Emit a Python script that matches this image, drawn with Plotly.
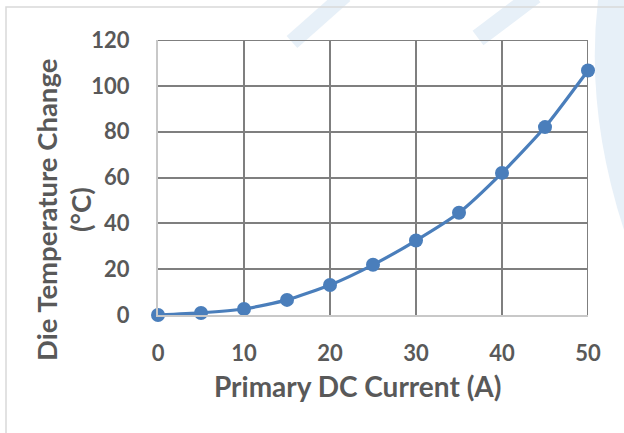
import plotly.graph_objects as go

current_a = [0, 5, 10, 15, 20, 25, 30, 35, 40, 45, 50]
temp_change_c = [0, 0.9, 2.6, 6.6, 13.1, 21.9, 32.5, 44.6, 62.0, 82.0, 106.7]
x_ticks = [0, 10, 20, 30, 40, 50]
y_ticks = [0, 20, 40, 60, 80, 100, 120]

W, H = 624, 433
ML, MR, MT, MB = 158, 36, 40, 118
PW, PH = W - ML - MR, H - MT - MB

def px(x):
    return (x - ML) / PW

def py(y):
    return (H - MB - y) / PH

FONT = "Lato"
GREY = "#595959"
BLUE = "#4a7ebb"
WM = "#e7f0f8"
GRID = "#7f7f7f"

fig = go.Figure()
fig.add_trace(go.Scatter(
    x=current_a, y=temp_change_c, mode="lines+markers",
    line=dict(color=BLUE, width=3.2, shape="spline", smoothing=0.6),
    marker=dict(color=BLUE, size=14),
    cliponaxis=False, showlegend=False, hoverinfo="x+y",
))

shapes = []
# watermark bands (decorative, behind)
for (x0, y0, x1, y1, w) in [
    (292, 42, 345, -5, 16),
    (478, 38, 535, -5, 18),
]:
    shapes.append(dict(type="line", xref="paper", yref="paper",
                       x0=px(x0), y0=py(y0), x1=px(x1), y1=py(y1),
                       line=dict(color=WM, width=w), layer="below"))
shapes.append(dict(type="path", xref="paper", yref="paper", layer="below",
                   path="M {} {} Q {} {} {} {} L {} {} L {} {} Z".format(
                       px(598), py(0), px(585), py(110), px(624), py(230),
                       px(624), py(230), px(624), py(0)),
                   fillcolor=WM, line=dict(width=0)))
# chart area border
shapes.append(dict(type="rect", xref="paper", yref="paper", layer="below",
                   x0=px(6), y0=py(7), x1=px(640), y1=py(450),
                   line=dict(color="#d9d9d9", width=1.5), fillcolor="rgba(0,0,0,0)"))
# top and right gridlines at the range edges
shapes.append(dict(type="line", xref="paper", yref="y", layer="below",
                   x0=0, x1=1, y0=y_ticks[-1], y1=y_ticks[-1],
                   line=dict(color=GRID, width=2)))
shapes.append(dict(type="line", xref="x", yref="paper", layer="below",
                   x0=x_ticks[-1], x1=x_ticks[-1], y0=0, y1=1,
                   line=dict(color=GRID, width=2)))

fig.update_layout(
    width=W, height=H,
    margin=dict(l=ML, r=MR, t=MT, b=MB, autoexpand=False),
    paper_bgcolor="white", plot_bgcolor="rgba(0,0,0,0)",
    font=dict(family=FONT, color=GREY),
    shapes=shapes,
    xaxis=dict(
        range=[0, 50], tickvals=x_ticks, ticktext=[str(v) for v in x_ticks],
        showgrid=True, gridcolor=GRID, gridwidth=2,
        zeroline=False, showline=True, linecolor="#c8c8c8", linewidth=2,
        mirror=False, ticks="", ticklabelstandoff=18,
        tickfont=dict(family=FONT, size=22, color=GREY, weight="bold"),
    ),
    yaxis=dict(
        range=[0, 120], tickvals=y_ticks, ticktext=[str(v) for v in y_ticks],
        showgrid=True, gridcolor=GRID, gridwidth=2,
        zeroline=False, showline=True, linecolor="#c8c8c8", linewidth=2,
        ticks="", ticklabelstandoff=22,
        tickfont=dict(family=FONT, size=22, color=GREY, weight="bold"),
    ),
    annotations=[
        dict(text="Primary DC Current (A)", xref="paper", yref="paper",
             x=px(357), y=py(386), xanchor="center", yanchor="middle",
             showarrow=False, font=dict(family=FONT, size=28, color=GREY, weight="bold")),
        dict(text="Die Temperature Change", xref="paper", yref="paper",
             x=px(46), y=py(210), xanchor="center", yanchor="middle", textangle=-90,
             showarrow=False, font=dict(family=FONT, size=27.5, color=GREY, weight="bold")),
        dict(text="(°C)", xref="paper", yref="paper",
             x=px(80), y=py(210), xanchor="center", yanchor="middle", textangle=-90,
             showarrow=False, font=dict(family=FONT, size=27.5, color=GREY, weight="bold")),
    ],
)

fig.write_html("out.html", config={"displayModeBar": False},
               post_script="document.body.style.margin='0';document.body.style.padding='0';")
